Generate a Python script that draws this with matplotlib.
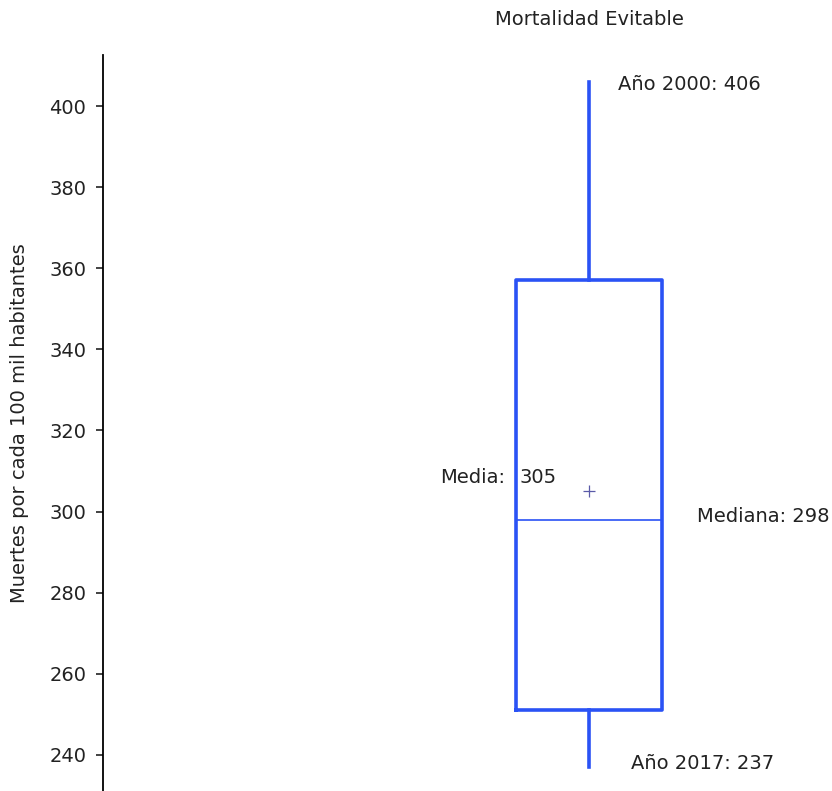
import matplotlib.pyplot as plt

# summary of the series (deaths per 100k inhabitants)
q1 = 251
q3 = 357
median = 298
mean = 305
whisker_low = 237
whisker_high = 406
label_high = "Año 2000: 406"
label_low = "Año 2017: 237"
yticks = [240, 260, 280, 300, 320, 340, 360, 380, 400]

plt.rcParams['font.family'] = ['DejaVu Sans']
plt.rcParams['font.size'] = 14

fig = plt.figure(figsize=(8.32, 7.91), dpi=100)
ax = fig.add_axes([0.1238, 0.0, 0.8762, 0.9305])

stats = [{
    'med': median, 'q1': q1, 'q3': q3,
    'whislo': whisker_low, 'whishi': whisker_high,
    'mean': mean, 'fliers': [],
}]
blue = '#2a52f5'
ax.bxp(stats, positions=[1], widths=0.3, showmeans=True, showcaps=False,
       boxprops=dict(color=blue, linewidth=2.6),
       whiskerprops=dict(color=blue, linewidth=2.6),
       medianprops=dict(color=blue, linewidth=1.2),
       meanprops=dict(marker='+', markeredgecolor='#5a5aa8', markersize=8,
                      markeredgewidth=0.9))

ax.set_xlim(0, 1.5)
ax.set_ylim(231.1, 412.6)
ax.set_yticks(yticks)
ax.set_xticks([])
for s in ['top', 'right', 'bottom']:
    ax.spines[s].set_visible(False)
ax.spines['left'].set_linewidth(1.3)
ax.tick_params(axis='y', length=5, width=1.2, pad=7, colors='#222222', labelsize=14)
ax.set_ylabel("Muertes por cada 100 mil habitantes", color='#222222', fontsize=14)
ax.yaxis.set_label_coords(-0.1015, 0.5)

txt = dict(color='#222222', va='center', fontsize=14)
ax.text(1.060, whisker_high - 0.8, label_high, ha='left', **txt)
ax.text(1.087, whisker_low + 0.8, label_low, ha='left', **txt)
ax.text(0.6935, mean + 3.5, "Media:", ha='left', **txt)
ax.text(0.856, mean + 3.5, str(mean), ha='left', **txt)
ax.text(1.222, median + 0.9, "Mediana: " + str(median), ha='left', **txt)

ax.text(1.0, 1.0 + 35 / 736, "Mortalidad Evitable", transform=ax.get_xaxis_transform(),
        ha='center', va='center', color='#222222', fontsize=14)

fig.savefig('out.png', dpi=100)
